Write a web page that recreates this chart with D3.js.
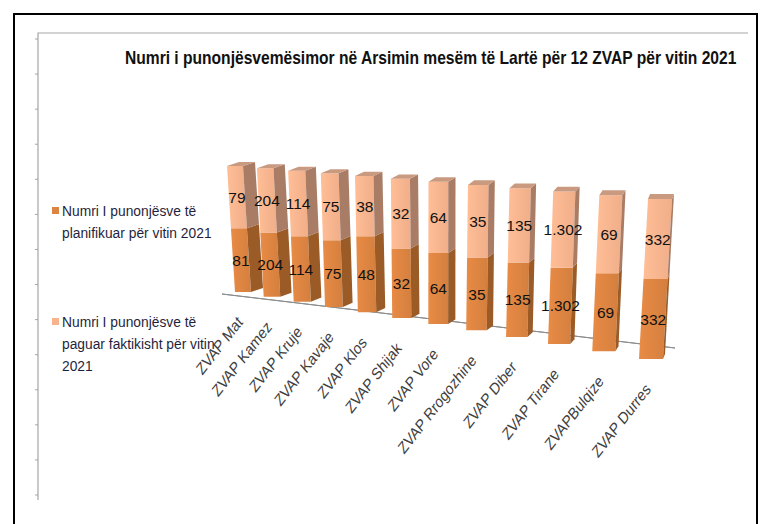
<!DOCTYPE html>
<html>
<head>
<meta charset="utf-8">
<script src="https://cdn.jsdelivr.net/npm/d3@7"></script>
<style>
  body { margin: 0; background: #fff; }
  svg { display: block; }
</style>
</head>
<body>
<svg id="chart" width="772" height="524"></svg>
<script>
// --- data -----------------------------------------------------------------
const categories = ['ZVAP Mat', 'ZVAP Kamez', 'ZVAP Kruje', 'ZVAP Kavaje', 'ZVAP Klos', 'ZVAP Shijak',
                    'ZVAP Vore', 'ZVAP Rrogozhine', 'ZVAP Diber', 'ZVAP Tirane', 'ZVAPBulqize', 'ZVAP Durres'];
const planned = [81, 204, 114, 75, 48, 32, 64, 35, 135, 1302, 69, 332];
const paid = [79, 204, 114, 75, 38, 32, 64, 35, 135, 1302, 69, 332];
const legendLines = [
    ['Numri I punonjësve të', 'planifikuar për vitin 2021'],
    ['Numri I punonjësve të', 'paguar faktikisht për vitin', '2021']
];
const title = 'Numri i punonjësvemësimor në Arsimin mesëm të Lartë  për 12 ZVAP  për vitin 2021';

const svg = d3.select('#chart');
const W = 772, H = 524;

// albanian number format: 1.302
const sq = d3.formatLocale({decimal: ',', thousands: '.', grouping: [3], currency: ['', '']});
const fmt = sq.format(',d');

// --- frame ----------------------------------------------------------------
svg.append('rect')
    .attr('x', 14).attr('y', 14)
    .attr('width', 743).attr('height', H)
    .attr('fill', 'none')
    .attr('stroke', '#000')
    .attr('stroke-width', 2);

var grey = '#a6a6a6';
svg.append('path')
    .attr('d', 'M38,500 L38,33 L748,33')
    .attr('fill', 'none')
    .attr('stroke', grey)
    .attr('stroke-width', 1.2);

// leftover ticks of the hidden value axis
var tickY = d3.scaleLinear().domain([0, 13]).range([495, 39]);
svg.append('g').selectAll('line')
    .data(d3.range(0, 14))
    .join('line')
    .attr('x1', 35).attr('x2', 38)
    .attr('y1', d => tickY(d)).attr('y2', d => tickY(d))
    .attr('stroke', grey);

// --- title ----------------------------------------------------------------
// the original is a squeezed bold font; squeeze it horizontally to fit
var titleText = svg.append('text')
    .attr('x', 0).attr('y', 0)
    .style('font-family', '"Liberation Sans Narrow", "Liberation Sans", sans-serif')
    .style('font-weight', 'bold')
    .style('font-size', '18px')
    .attr('fill', '#111')
    .text(title);
var natural = titleText.node().getComputedTextLength();
titleText.attr('transform', 'translate(125,64) scale(' + (612 / natural) + ',1)');

// --- perspective layout ---------------------------------------------------
// bars get further apart toward the right, as in the 3D excel view
const k = 0.0214;
const persp = i => i / (1 - k * i);
const tOf = d3.scaleLinear().domain([0, persp(categories.length - 1)]);
const t = i => tOf(persp(i));

const topX = d3.scaleLinear().range([227, 648]);
const topY = d3.scaleLinear().range([166, 199]);
const botX = d3.scaleLinear().range([235, 639]);
const botY = d3.scaleLinear().range([292, 359]);
const faceW = d3.scaleLinear().range([16, 24]);
const depthX = d3.scaleLinear().range([12, 2]);
const depthY = d3.scaleLinear().range([-4, -5]);

// point on the front-left edge of bar i at fraction f of its height
function edge(i, f) {
    var tt = t(i);
    return [botX(tt) + (topX(tt) - botX(tt)) * f,
            botY(tt) + (topY(tt) - botY(tt)) * f];
}

// --- floor ----------------------------------------------------------------
const floorBack = d3.scaleLinear().range([[233, 288], [675, 348]]);
const floorFront = d3.scaleLinear().range([[222, 294], [673, 368]]);
svg.append('path')
    .attr('d', d3.line()([floorBack(0), floorBack(1), floorFront(1), floorFront(0)]) + 'Z')
    .attr('fill', '#fff')
    .attr('stroke', '#8c8c8c')
    .attr('stroke-width', 1);

// --- stacked 100% columns ------------------------------------------------
const rows = categories.map((c, i) => ({cat: c, planned: planned[i], paid: paid[i], i: i}));
const stack = d3.stack().keys(['planned', 'paid']).offset(d3.stackOffsetExpand);
const series = stack(rows);

const colors = {
    planned: {front: '#dc8441', side: '#9b5b27', top: '#c08a6a'},
    paid: {front: '#f9b48e', side: '#a97c66', top: '#c99a80'}
};

const defs = svg.append('defs');
['planned', 'paid'].forEach(function (key) {
    var g = defs.append('linearGradient').attr('id', 'grad-' + key);
    g.append('stop').attr('offset', '0%').attr('stop-color', d3.color(colors[key].front).brighter(0.15));
    g.append('stop').attr('offset', '100%').attr('stop-color', d3.color(colors[key].front).darker(0.1));
});

const bars = svg.append('g');
const segs = [];
series.forEach(function (s) {
    s.forEach(function (d, i) {
        segs.push({key: s.key, i: i, f0: d[0], f1: d[1], value: d.data[s.key]});
    });
});

const line = d3.line();
segs.forEach(function (s) {
    var tt = t(s.i);
    var w = faceW(tt), dx = depthX(tt), dy = depthY(tt);
    var a = edge(s.i, s.f0), b = edge(s.i, s.f1);
    var g = bars.append('g');
    // front face
    g.append('path')
        .attr('d', line([a, [a[0] + w, a[1]], [b[0] + w, b[1]], b]) + 'Z')
        .attr('fill', 'url(#grad-' + s.key + ')');
    // right side face
    g.append('path')
        .attr('d', line([[a[0] + w, a[1]], [a[0] + w + dx, a[1] + dy],
                         [b[0] + w + dx, b[1] + dy], [b[0] + w, b[1]]]) + 'Z')
        .attr('fill', colors[s.key].side);
    // top face on the last segment
    if (s.f1 >= 0.999) {
        g.append('path')
            .attr('d', line([b, [b[0] + w, b[1]], [b[0] + w + dx, b[1] + dy], [b[0] + dx, b[1] + dy]]) + 'Z')
            .attr('fill', colors[s.key].top);
    }
});

// value labels
svg.append('g').selectAll('text')
    .data(segs)
    .join('text')
    .attr('x', d => edge(d.i, (d.f0 + d.f1) / 2)[0] + faceW(t(d.i)) / 2)
    .attr('y', d => edge(d.i, (d.f0 + d.f1) / 2)[1])
    .attr('dy', '0.36em')
    .attr('text-anchor', 'middle')
    .style('font-family', '"Liberation Sans", Arial, sans-serif')
    .style('font-size', '15.5px')
    .attr('fill', '#111')
    .text(d => fmt(d.value));

// category labels, rotated like the excel axis
svg.append('g').selectAll('text')
    .data(rows)
    .join('text')
    .attr('transform', function (d) {
        var p = edge(d.i, 0);
        var x = p[0] + faceW(t(d.i)) / 2 - 3, y = p[1] + 27;
        return 'translate(' + x + ',' + y + ') rotate(-52) skewX(-10)';
    })
    .attr('dy', '0.35em')
    .attr('text-anchor', 'end')
    .style('font-family', '"Liberation Sans", Arial, sans-serif')
    .style('font-size', '15px')
    .attr('fill', '#404040')
    .text(d => d.cat);

// --- legend ---------------------------------------------------------------
const legendY = d3.scaleLinear().domain([0, 1]).range([211, 322]);
const legend = svg.append('g').selectAll('g')
    .data(['planned', 'paid'])
    .join('g')
    .attr('transform', (d, i) => 'translate(52,' + legendY(i) + ')');
legend.append('rect')
    .attr('x', 0).attr('y', -4)
    .attr('width', 7).attr('height', 7)
    .attr('fill', d => colors[d].front);
legend.append('text')
    .style('font-family', '"Liberation Sans", Arial, sans-serif')
    .style('font-size', '13.8px')
    .attr('fill', '#1f1f3d')
    .selectAll('tspan')
    .data((d, i) => legendLines[i])
    .join('tspan')
    .attr('x', 10)
    .attr('y', (d, j) => j * 22)
    .attr('dy', '0.35em')
    .text(d => d);
</script>
</body>
</html>
